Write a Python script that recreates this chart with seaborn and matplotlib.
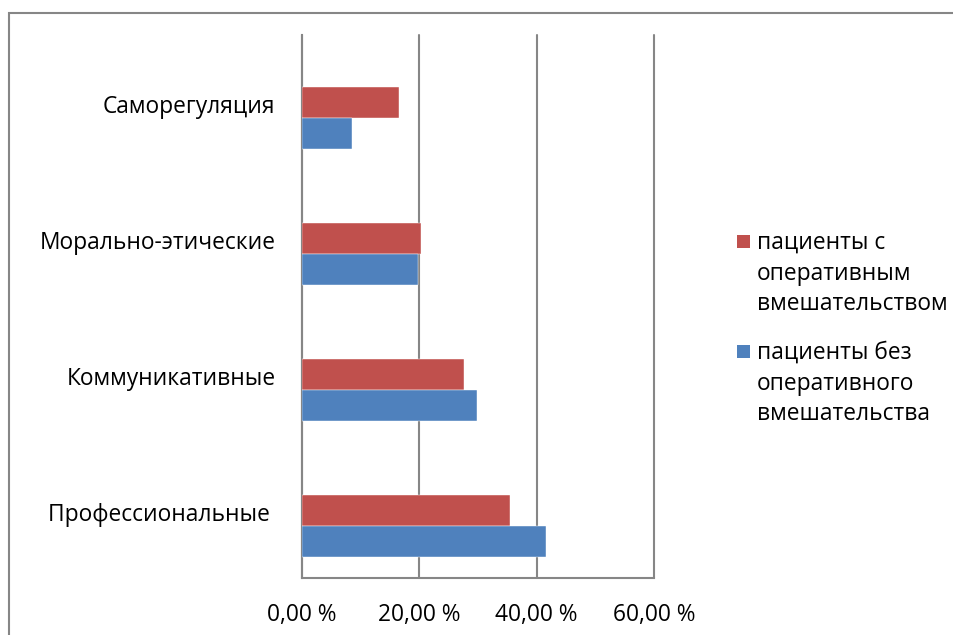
# Horizontal grouped bar chart: two patient groups across four skill areas
import numpy as np
import pandas as pd
import matplotlib
matplotlib.use("Agg")
import matplotlib.pyplot as plt
from matplotlib.patches import Rectangle
from matplotlib.ticker import FuncFormatter, MultipleLocator
import seaborn as sns

# Data (percent)
categories = ["Саморегуляция", "Морально-этические", "Коммуникативные", "Профессиональные "]
series_names = ["пациенты с\nоперативным\nвмешательством",
                "пациенты без\nоперативного\nвмешательства"]
with_surgery = [16.5, 20.3, 27.6, 35.5]
without_surgery = [8.6, 19.8, 29.8, 41.6]
colours = ["#C0504D", "#4F81BD"]

df = pd.DataFrame({
    "category": categories * 2,
    "group": [series_names[0]] * 4 + [series_names[1]] * 4,
    "value": with_surgery + without_surgery,
})

sns.set_style("white")
plt.rcParams["font.family"] = ["Open Sans", "DejaVu Sans"]
FS = 16.4

fig = plt.figure(figsize=(9.54, 6.35), dpi=100)
W, H = 954, 635
ax = fig.add_axes([302 / W, 1 - 578 / H, (654 - 302) / W, (578 - 35) / H])

sns.barplot(data=df, x="value", y="category", hue="group", hue_order=series_names,
            palette=colours, orient="h", width=0.45, gap=0, saturation=1,
            edgecolor="white", linewidth=0.3, ax=ax, legend=False, zorder=3)

grid_col = "#868686"
ax.set_xlim(0, 60)
# Excel draws the bar pairs a little below the category labels
ax.set_ylim(3.382, -0.610)
ax.set_yticks(np.arange(len(categories)) - 0.105, categories)
ax.xaxis.set_major_locator(MultipleLocator(20))
ax.xaxis.set_major_formatter(FuncFormatter(lambda v, p: f"{v:.2f} %".replace(".", ",")))
ax.grid(axis="x", color=grid_col, linewidth=1.5, zorder=0)
for gl in ax.get_xgridlines():
    gl.set_clip_on(False)
ax.set_axisbelow(True)
for side in ["top", "right"]:
    ax.spines[side].set_visible(False)
for side in ["left", "bottom"]:
    ax.spines[side].set_color(grid_col)
    ax.spines[side].set_linewidth(1.5)
ax.tick_params(axis="both", length=0, labelsize=FS, colors="black")
ax.tick_params(axis="y", pad=19)
ax.tick_params(axis="x", pad=18)
ax.set_xlabel("")
ax.set_ylabel("")

# legend on the right: square key next to the first line of each label
# (va="baseline" on multi-line text anchors the last line, 2 lines of 31 px below)
for name, col, base in zip(series_names, colours, [248, 358]):
    fig.patches.append(Rectangle((737 / W, 1 - base / H), 13 / W, 13 / H,
                                 transform=fig.transFigure, facecolor=col,
                                 edgecolor="none"))
    fig.text(757 / W, 1 - (base + 62) / H, name, fontsize=FS, va="baseline",
             ha="left", linespacing=1.36, color="black")

# outer chart border (cut off by the image edge on right and bottom)
fig.patches.append(Rectangle((9 / W, -0.1), 1.2, 1 - 13 / H + 0.1,
                             transform=fig.transFigure, fill=False,
                             edgecolor=grid_col, linewidth=1.5))

plt.savefig("out.png", dpi=100)
